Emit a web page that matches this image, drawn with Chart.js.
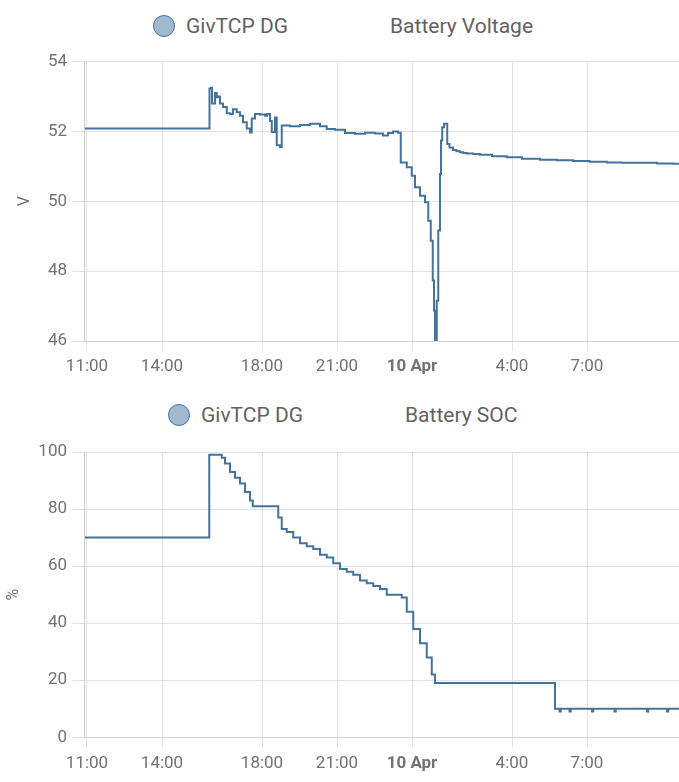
<!DOCTYPE html>
<html>
<head>
<meta charset="utf-8">
<script src="https://cdn.jsdelivr.net/npm/chart.js@4.4.1/dist/chart.umd.min.js"></script>
<style>
	body { margin: 0; background: #fff; font-family: Roboto, sans-serif; }
	#wrap { position: relative; width: 679px; height: 782px; overflow: hidden; }
	canvas { position: absolute; left: 0; }
	.dot { position: absolute; width: 20px; height: 20px; border-radius: 50%; background: #a1b9cf; border: 1px solid #44739e; }
	.lbl { position: absolute; font-size: 21px; color: #626262; line-height: 24px; white-space: nowrap; }
</style>
</head>
<body>
<div id="wrap">
	<div class="dot" style="left:153px; top:15px;"></div>
	<div class="lbl" style="left:186px; top:14px;">GivTCP DG</div>
	<div class="lbl" style="left:390px; top:14px;">Battery Voltage</div>
	<canvas id="voltChart" width="679" height="391" style="top:0;"></canvas>

	<div class="dot" style="left:168px; top:404px;"></div>
	<div class="lbl" style="left:201px; top:403px;">GivTCP DG</div>
	<div class="lbl" style="left:405px; top:403px;">Battery SOC</div>
	<canvas id="socChart" width="679" height="391" style="top:391px;"></canvas>
</div>
<script>
	// hours counted from 9 Apr 00:00 (24 = 10 Apr 00:00)
	var tickHours = [11, 14, 18, 21, 24, 28, 31];
	var tickLabels = ['11:00', '14:00', '18:00', '21:00', '10 Apr', '4:00', '7:00'];

	var voltHours = [10.92, 15.88, 15.9, 15.96, 16.0, 16.12, 16.19, 16.24, 16.32, 16.44, 16.59, 16.72, 16.84, 16.99,
		17.12, 17.24, 17.39, 17.52, 17.59, 17.72, 17.92, 18.12, 18.2, 18.32, 18.39, 18.52, 18.59, 18.72, 18.79,
		19.12, 19.52, 19.92, 20.32, 20.59, 20.92, 21.32, 21.72, 22.12, 22.52, 22.84, 23.04, 23.24, 23.44,
		23.55, 23.79, 23.99, 24.12, 24.32, 24.52, 24.65, 24.75, 24.83, 24.88, 24.92, 24.99, 25.05, 25.12,
		25.16, 25.21, 25.28, 25.36, 25.41, 25.5, 25.64, 25.78, 25.92, 26.05, 26.19, 26.45, 26.72, 27.2, 27.79,
		28.4, 29.12, 29.8, 30.44, 31.1, 31.79, 32.4, 33.12, 33.8, 34.44, 34.68];
	var voltValues = [52.08, 52.08, 53.23, 53.25, 52.8, 53.1, 52.98, 53.0, 52.8, 52.7, 52.52, 52.5, 52.63, 52.55,
		52.45, 52.26, 52.08, 51.97, 52.37, 52.5, 52.48, 52.45, 52.5, 52.3, 51.98, 52.4, 51.6, 51.55, 52.17,
		52.15, 52.18, 52.22, 52.15, 52.07, 52.05, 51.95, 51.93, 51.96, 51.94, 51.88, 51.95, 52.0, 51.96,
		51.11, 50.97, 50.73, 50.4, 50.16, 49.97, 49.44, 48.87, 47.73, 46.87, 45.8, 47.15, 49.16, 50.78,
		51.74, 52.12, 52.22, 52.22, 51.64, 51.54, 51.47, 51.43, 51.4, 51.38, 51.37, 51.35, 51.33, 51.29, 51.26,
		51.22, 51.19, 51.17, 51.15, 51.13, 51.11, 51.1, 51.1, 51.08, 51.07, 51.05];

	var socHours = [10.92, 15.89, 16.29, 16.39, 16.52, 16.72, 16.92, 17.12, 17.32, 17.52, 17.63, 18.52, 18.65, 18.79,
		18.99, 19.25, 19.52, 19.79, 20.05, 20.32, 20.59, 20.85, 21.12, 21.39, 21.65, 21.92, 22.19, 22.45, 22.72,
		22.99, 23.45, 23.59, 23.79, 24.05, 24.32, 24.59, 24.79, 24.92, 29.72, 29.9, 29.95, 30.3, 30.35, 31.2,
		31.25, 32.1, 32.15, 33.4, 33.45, 34.2, 34.25, 34.68];
	var socValues = [70, 99, 99, 98, 96, 93, 91, 89, 86, 83, 81, 81, 77, 73,
		72, 70, 68, 67, 66, 64, 63, 61, 59, 58, 57, 55, 54, 53, 52,
		50, 50, 49, 44, 38, 33, 28, 22, 19, 10, 9, 10, 9, 10, 9,
		10, 9, 10, 9, 10, 9, 10, 10];

	var LINE_COLOR = '#44739e';
	var TICK_COLOR = '#727272';

	function toPoints(xs, ys) {
		var pts = [];
		for (var i = 0; i < xs.length; i++) pts.push({ x: xs[i], y: ys[i] });
		return pts;
	}

	function buildChart(canvasId, points, yMin, yMax, yStep, yTitle, titlePad, pad) {
		return new Chart(document.getElementById(canvasId), {
			type: 'line',
			data: {
				datasets: [{
					label: 'GivTCP DG',
					data: points,
					borderColor: LINE_COLOR,
					borderWidth: 2,
					pointRadius: 0,
					stepped: 'before',
					fill: false
				}]
			},
			options: {
				responsive: false,
				animation: false,
				devicePixelRatio: 1,
				layout: { padding: pad },
				plugins: { legend: { display: false }, tooltip: { enabled: false } },
				scales: {
					x: {
						type: 'linear',
						min: 10.88,
						max: 34.68,
						afterBuildTicks: function (scale) {
							scale.ticks = tickHours.map(function (h) { return { value: h }; });
						},
						ticks: {
							autoSkip: false,
							maxRotation: 0,
							padding: 6,
							color: TICK_COLOR,
							font: function (ctx) {
								return { family: 'Roboto', size: 17, weight: (ctx.tick && ctx.tick.value === 24) ? 'bold' : 'normal' };
							},
							callback: function (value, index) { return tickLabels[index]; }
						},
						grid: { color: '#e2e2e2', tickLength: 10 },
						border: { color: '#d2d2d2' }
					},
					y: {
						min: yMin,
						max: yMax,
						afterFit: function (scale) { scale.width = 84; },
						ticks: {
							stepSize: yStep,
							padding: 5,
							color: TICK_COLOR,
							font: { family: 'Roboto', size: 17 }
						},
						grid: { color: '#e2e2e2', tickLength: 12 },
						border: { color: '#d2d2d2' },
						title: {
							display: true,
							text: yTitle,
							color: TICK_COLOR,
							font: { family: 'Roboto', size: 16 },
							padding: { top: titlePad, bottom: 0 }
						}
					}
				}
			}
		});
	}

	buildChart('voltChart', toPoints(voltHours, voltValues), 46, 54, 2, 'V', 15, { top: 61.5, bottom: 7.6, left: 0, right: 0 });
	buildChart('socChart', toPoints(socHours, socValues), 0, 100, 20, '%', 4, { top: 61, bottom: 2.3, left: 0, right: 0 });
</script>
</body>
</html>
